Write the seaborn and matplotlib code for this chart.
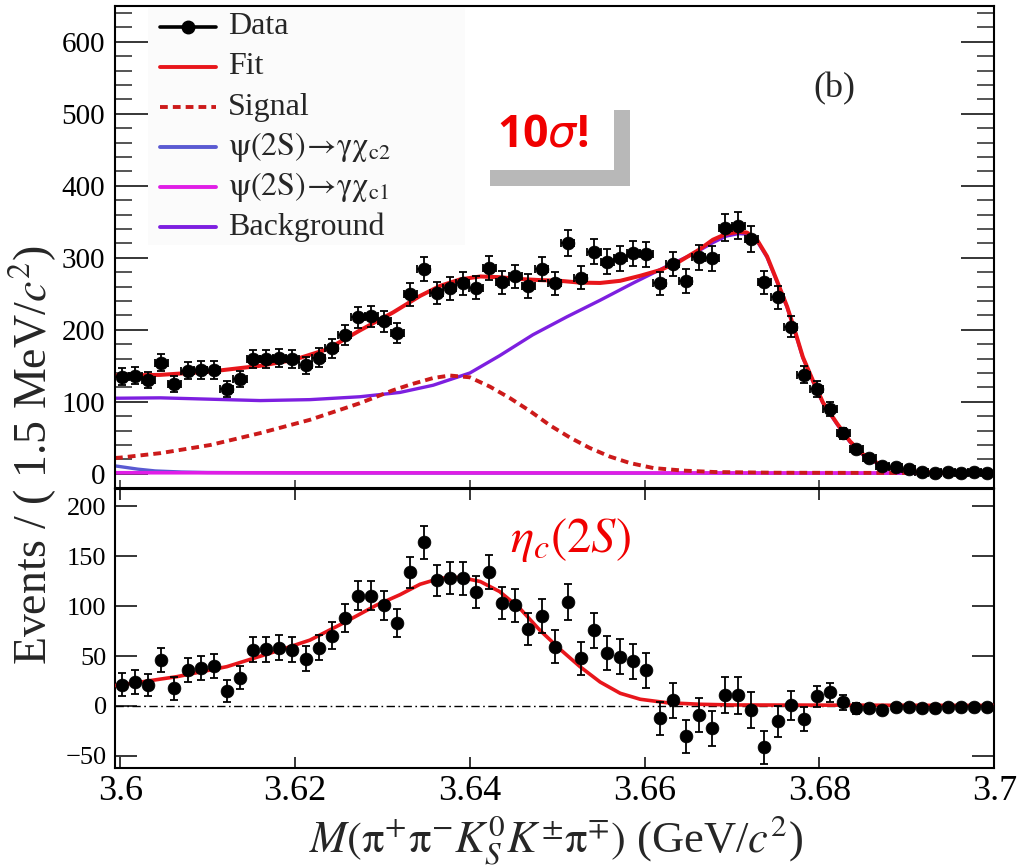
import numpy as np
import pandas as pd
import matplotlib
matplotlib.use("Agg")
import matplotlib.pyplot as plt
import seaborn as sns
from matplotlib.lines import Line2D
from matplotlib.patches import Rectangle
from matplotlib.ticker import MultipleLocator

# ---------------- data ----------------
bin_start, bin_width, n_bins = 3.6002, 0.0015, 67
mass = bin_start + bin_width * np.arange(n_bins)

counts = [135, 136, 130.5, 154.5, 125, 143, 144, 144, 118, 131.5,
          159.5, 159.5, 160.5, 159.5, 150.5, 161.5, 174.5, 193, 217.5, 218.5,
          211.5, 195.5, 249.5, 284, 251, 257.5, 264.5, 258.5, 285.5, 266,
          274, 261, 284.5, 264.5, 320, 272.5, 308.5, 294.5, 299.5, 306,
          305, 264.5, 291.5, 268, 301, 299.5, 342, 344.5, 325.5, 266,
          245, 204.5, 137.5, 117.5, 90, 56.5, 34.5, 22, 11, 9,
          6.5, 3, 1, 2, 1, 2, 1]
errors = [11.6, 11.7, 11.4, 12.4, 11.2, 12.0, 12.0, 12.0, 10.9, 11.5,
          12.6, 12.6, 12.7, 12.6, 12.3, 12.7, 13.2, 13.9, 14.7, 14.8,
          14.5, 14.0, 15.8, 16.9, 15.8, 16.0, 16.3, 16.1, 16.9, 16.3,
          16.6, 16.2, 16.9, 16.3, 17.9, 16.5, 17.6, 17.2, 17.3, 17.5,
          17.5, 16.3, 17.1, 16.4, 17.3, 17.3, 18.5, 18.6, 18.0, 16.3,
          15.7, 14.3, 11.7, 10.8, 9.5, 7.5, 5.9, 4.7, 3.3, 3.0,
          2.5, 1.7, 1.0, 1.4, 1.0, 1.4, 1.0]
subtracted = [21.5, 24, 21, 46, 17.5, 36.5, 38.5, 40.5, 15, 28.5,
              56.5, 57, 58.5, 56.5, 47.5, 58.5, 70.5, 88.5, 110.5, 110.5,
              101, 83.5, 134, 164, 126, 128, 128, 114.5, 134, 103,
              101, 77, 90, 59.5, 104, 48, 76, 53, 49.5, 45,
              36, -12.5, 5.5, -30.5, -9, -22.5, 11, 10.5, -4, -41.5,
              -15.5, 0.5, -13, 9.5, 13.5, 3.5, -2.5, -2.5, -4, -1.5,
              -1.5, -2.5, -2.5, -1.5, -1.5, -1.5, -1]

fit_m = [3.5994, 3.6, 3.6046, 3.6103, 3.616, 3.6198, 3.6237, 3.6274, 3.6312, 3.6343,
         3.6366, 3.6389, 3.6412, 3.6434, 3.6457, 3.648, 3.6503, 3.6526, 3.6549, 3.6572,
         3.6595, 3.6618, 3.664, 3.6662, 3.6678, 3.6693, 3.6707, 3.6717, 3.6728, 3.674,
         3.6751, 3.6763, 3.6772, 3.6781, 3.6793, 3.6804, 3.682, 3.6835, 3.685, 3.6869,
         3.6888, 3.6907, 3.6938, 3.7]
fit_v = [136.5, 136.5, 137.4, 142, 150, 158, 173, 199, 224, 247,
         261, 270, 274, 273, 270.5, 269, 268, 265.5, 265, 268,
         275, 283, 295, 311, 325, 333, 336, 335, 326, 302,
         269, 232, 198, 162, 128, 99, 70, 45, 27, 13,
         6, 3.2, 1.5, 1]

sig_m = [3.5994, 3.6, 3.6046, 3.6103, 3.616, 3.6217, 3.6274, 3.6312, 3.6332, 3.6358,
         3.6377, 3.64, 3.6423, 3.6446, 3.6469, 3.6492, 3.6515, 3.6537, 3.656, 3.6583,
         3.661, 3.6644, 3.668, 3.675, 3.7]
sig_v = [22, 22.5, 28.7, 40, 56.5, 75, 98, 116, 124, 133,
         136.5, 134, 121, 105, 87, 67, 50, 36, 24, 15,
         8, 4.5, 2.5, 1.5, 1]

bkg_m = [3.5994, 3.6, 3.6046, 3.6103, 3.616, 3.6217, 3.6274, 3.632, 3.6358, 3.64,
         3.6434, 3.6472, 3.6511, 3.6549, 3.6587, 3.6625, 3.6655, 3.6678, 3.6693, 3.6707,
         3.6717, 3.6728, 3.674, 3.6751, 3.6763, 3.6772, 3.6781, 3.6793, 3.6804, 3.682,
         3.6835, 3.685, 3.6869, 3.6888, 3.6907, 3.6938, 3.7]
bkg_v = [105, 105, 105.5, 103.6, 101.7, 103, 107, 113, 123, 140,
         164, 193, 218, 241, 265, 288, 305, 321, 330, 333.5,
         333, 324.5, 300.5, 268, 231, 197, 161, 127, 98, 69,
         44, 26, 12, 5, 2, 0.5, 0]

chic2_m = [3.5994, 3.6, 3.602, 3.604, 3.607, 3.61, 3.62, 3.64, 3.7]
chic2_v = [11, 10, 6.5, 4, 2.5, 1.8, 1.2, 1.0, 0.8]

chic1_m = [3.5994, 3.62, 3.64, 3.66, 3.7]
chic1_v = [1.5, 1.4, 1.3, 1.2, 1.1]

sub_m = [3.5994, 3.6, 3.6019, 3.6065, 3.6122, 3.6179, 3.6217, 3.6255, 3.6293, 3.632,
         3.6343, 3.6366, 3.6389, 3.6412, 3.6434, 3.6457, 3.648, 3.6503, 3.6526, 3.6549,
         3.6572, 3.6595, 3.6625, 3.6663, 3.67, 3.7]
sub_v = [20.5, 21, 23.4, 29.4, 39.4, 55, 66, 83, 101, 111.5,
         122, 128, 129, 124.7, 114.7, 98, 76, 57, 39.4, 24,
         12.7, 6.7, 3.3, 1.7, 1, 0.5]

legend_labels = ["Data", "Fit", "Signal",
                 r"$\mathrm{\psi(2S)}\!\rightarrow\!\mathrm{\gamma\chi}_{\mathrm{c2}}$",
                 r"$\mathrm{\psi(2S)}\!\rightarrow\!\mathrm{\gamma\chi}_{\mathrm{c1}}$",
                 "Background"]

# ---------------- style ----------------
sns.set_theme(style="white")
plt.rcParams["font.family"] = ["Liberation Serif", "DejaVu Serif"]
plt.rcParams["mathtext.fontset"] = "stix"

RED = "#e8161b"
SIGRED = "#cc1a1a"
PURPLE = "#7d1fe0"
BLUE = "#5a5ad2"
MAGENTA = "#e01ee6"

W, H = 1017, 866
fig = plt.figure(figsize=(W / 100, H / 100), dpi=100)
fig.patch.set_facecolor("white")

def fx(px):
    return px / W

def fy(py):
    return 1 - py / H

L, R = 115, 994.3
ax1 = fig.add_axes([fx(L), fy(487.5), (R - L) / W, (487.5 - 5.7) / H])
ax2 = fig.add_axes([fx(L), fy(768.3), (R - L) / W, (768.3 - 488.5) / H])

df = pd.DataFrame({"mass": mass, "counts": counts, "err": errors, "sub": subtracted})

# ---------------- top panel ----------------
sns.lineplot(x=bkg_m, y=bkg_v, ax=ax1, color=PURPLE, lw=2.4, estimator=None, sort=False, zorder=2)
sns.lineplot(x=chic2_m, y=chic2_v, ax=ax1, color=BLUE, lw=2.4, estimator=None, sort=False, zorder=2)
sns.lineplot(x=chic1_m, y=chic1_v, ax=ax1, color=MAGENTA, lw=2.6, estimator=None, sort=False, zorder=2.1)
ax1.plot(sig_m, sig_v, color=SIGRED, lw=2.8, linestyle=(0, (2.0, 1.3)), zorder=2.2)
sns.lineplot(x=fit_m, y=fit_v, ax=ax1, color=RED, lw=2.9, estimator=None, sort=False, zorder=3)

ax1.errorbar(df["mass"], df["counts"], yerr=df["err"], xerr=bin_width / 2, fmt="none",
             ecolor="black", elinewidth=1.3, capsize=3.2, capthick=1.3, zorder=4)
sns.scatterplot(data=df, x="mass", y="counts", ax=ax1, color="black", s=85,
                edgecolor="black", linewidth=0.5, zorder=5, legend=False)

ax1.set_xlim(3.5994, 3.7)
ax1.set_ylim(-19, 650)
ax1.yaxis.set_major_locator(MultipleLocator(100))
ax1.yaxis.set_minor_locator(MultipleLocator(20))
ax1.xaxis.set_major_locator(MultipleLocator(0.02))
ax1.tick_params(axis="y", which="major", direction="in", length=24, width=1.1,
                left=True, right=True, labelsize=21, pad=7, colors="black")
ax1.tick_params(axis="y", which="minor", direction="in", length=12, width=1.1,
                left=True, right=True)
ax1.tick_params(axis="x", which="major", direction="in", length=6, width=1.1,
                bottom=True, top=False, labelbottom=False)
ax1.set_xlabel("")
ax1.set_ylabel("")

# ---------------- bottom panel ----------------
ax2.axhline(0, color="black", lw=1.0, linestyle=(0, (6, 2.5, 1.2, 2.5)), zorder=1)
sns.lineplot(x=sub_m, y=sub_v, ax=ax2, color=RED, lw=2.6, estimator=None, sort=False, zorder=3)
ax2.errorbar(df["mass"], df["sub"], yerr=df["err"], fmt="none",
             ecolor="black", elinewidth=1.3, capsize=3.2, capthick=1.3, zorder=4)
sns.scatterplot(data=df, x="mass", y="sub", ax=ax2, color="black", s=85,
                edgecolor="black", linewidth=0.5, zorder=5, legend=False)

ax2.set_xlim(3.5994, 3.7)
ax2.set_ylim(-62.5, 218)
ax2.yaxis.set_major_locator(MultipleLocator(50))
ax2.xaxis.set_major_locator(MultipleLocator(0.02))
ax2.xaxis.set_major_formatter(matplotlib.ticker.FuncFormatter(lambda v, p: f"{v:.2f}".rstrip("0")))
ax2.tick_params(axis="y", which="major", direction="in", length=16, width=1.1,
                left=True, right=True, labelsize=19, pad=6, colors="black")
ax2.tick_params(axis="x", which="major", direction="in", length=8, width=1.1,
                bottom=True, top=True, labelsize=26, pad=5, colors="black")
ax2.set_xlabel("")
ax2.set_ylabel("")

for ax in (ax1, ax2):
    for sp in ax.spines.values():
        sp.set_color("black")
        sp.set_linewidth(1.5)
        sp.set_visible(True)
    ax.set_facecolor("white")

# ---------------- axis titles ----------------
fig.text(fx(33), fy(455), r"Events / ( 1.5 MeV/$c^2$)", rotation=90,
         ha="center", va="center", fontsize=33)
fig.text(fx(556), fy(840),
         r"$M(\mathrm{\pi}^{+}\mathrm{\pi}^{-}K^{0}_{S}K^{\pm}\mathrm{\pi}^{\mp})$ (GeV/$c^{2}$)",
         ha="center", va="center", fontsize=32)

# ---------------- legend (manual) ----------------
fig.add_artist(Rectangle((fx(148), fy(245)), (465 - 148) / W, (245 - 8) / H,
                         transform=fig.transFigure, facecolor="#fbfbfb",
                         edgecolor="none", zorder=6))
styles = [dict(color="black", lw=2.6, marker="o", ms=9, markevery=[1]),
          dict(color=RED, lw=2.8),
          dict(color=SIGRED, lw=2.8, linestyle=(0, (2.0, 1.3))),
          dict(color=BLUE, lw=2.8),
          dict(color=MAGENTA, lw=2.8),
          dict(color=PURPLE, lw=2.8)]
for i, (lab, st) in enumerate(zip(legend_labels, styles)):
    yy = 27 + 40 * i
    fig.add_artist(Line2D([fx(160), fx(188), fx(216)], [fy(yy)] * 3,
                          transform=fig.transFigure, zorder=7, **st))
    fig.text(fx(228), fy(yy), lab, ha="left", va="center", fontsize=23, zorder=7)

# ---------------- annotations ----------------
fig.text(fx(834), fy(89), "(b)", ha="center", va="center", fontsize=26)

fig.add_artist(Rectangle((fx(490), fy(186)), (630 - 490) / W, (186 - 110) / H,
                         transform=fig.transFigure, facecolor="#b8b8b8",
                         edgecolor="none", zorder=6))
fig.add_artist(Rectangle((fx(478), fy(170)), (614 - 478) / W, (170 - 100) / H,
                         transform=fig.transFigure, facecolor="white",
                         edgecolor="none", zorder=6.5))
fig.text(fx(543), fy(135), r"10$\mathit{\sigma}$!", ha="center", va="center",
         fontsize=32, fontweight="bold", color="#f00000",
         family=["Open Sans", "DejaVu Sans"], math_fontfamily="dejavusans", zorder=7)

fig.text(fx(570), fy(540), r"$\eta_c(2S)$", ha="center", va="center",
         fontsize=35, color="#f00000", zorder=7)

fig.savefig("out.png", dpi=100, facecolor="white")
